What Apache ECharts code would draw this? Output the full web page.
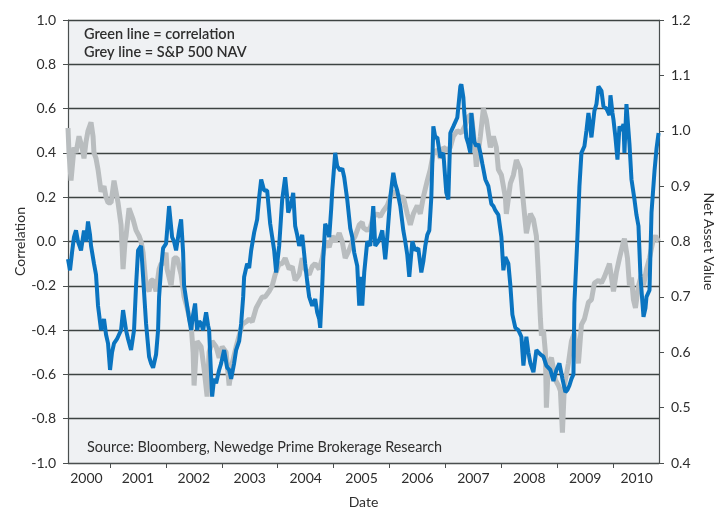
<!DOCTYPE html>
<html><head><meta charset="utf-8">
<script src="https://cdn.jsdelivr.net/npm/echarts@6/dist/echarts.min.js"></script>
<style>html,body{margin:0;padding:0;background:#fff}#c{width:727px;height:510px}</style>
</head><body><div id="c"></div>
<script>
// Correlation series (date in decimal years, value)
const corrDates = [2000.250,2000.286,2000.322,2000.357,2000.393,2000.429,2000.483,2000.536,2000.572,2000.608,2000.644,2000.662,2000.715,2000.751,2000.787,2000.841,2000.894,2000.930,2000.966,2001.002,2001.038,2001.073,2001.127,2001.163,2001.199,2001.235,2001.288,2001.324,2001.378,2001.431,2001.467,2001.503,2001.557,2001.593,2001.646,2001.700,2001.736,2001.772,2001.825,2001.861,2001.879,2001.915,2001.951,2002.004,2002.058,2002.112,2002.147,2002.183,2002.237,2002.273,2002.309,2002.326,2002.380,2002.416,2002.452,2002.488,2002.523,2002.559,2002.595,2002.631,2002.667,2002.720,2002.756,2002.774,2002.810,2002.828,2002.863,2002.899,2002.953,2002.989,2003.042,2003.096,2003.132,2003.168,2003.221,2003.257,2003.311,2003.347,2003.383,2003.400,2003.454,2003.490,2003.526,2003.579,2003.633,2003.669,2003.705,2003.758,2003.812,2003.866,2003.902,2003.937,2003.973,2004.027,2004.081,2004.134,2004.170,2004.188,2004.242,2004.278,2004.313,2004.349,2004.385,2004.439,2004.492,2004.528,2004.564,2004.618,2004.671,2004.707,2004.743,2004.761,2004.797,2004.815,2004.850,2004.886,2004.922,2004.958,2004.976,2005.029,2005.065,2005.119,2005.155,2005.190,2005.244,2005.298,2005.334,2005.369,2005.423,2005.459,2005.477,2005.513,2005.548,2005.602,2005.656,2005.710,2005.745,2005.799,2005.835,2005.871,2005.924,2005.960,2006.014,2006.068,2006.103,2006.139,2006.193,2006.247,2006.282,2006.318,2006.354,2006.408,2006.461,2006.515,2006.569,2006.605,2006.640,2006.676,2006.712,2006.748,2006.784,2006.819,2006.855,2006.909,2006.963,2007.016,2007.052,2007.088,2007.142,2007.213,2007.267,2007.285,2007.321,2007.338,2007.374,2007.410,2007.446,2007.464,2007.517,2007.553,2007.589,2007.625,2007.661,2007.714,2007.768,2007.822,2007.858,2007.893,2007.947,2008.001,2008.037,2008.072,2008.126,2008.162,2008.198,2008.251,2008.305,2008.359,2008.395,2008.448,2008.484,2008.520,2008.574,2008.627,2008.663,2008.699,2008.753,2008.806,2008.878,2008.932,2008.985,2009.039,2009.093,2009.146,2009.182,2009.218,2009.254,2009.290,2009.307,2009.361,2009.397,2009.433,2009.486,2009.522,2009.558,2009.576,2009.612,2009.665,2009.701,2009.737,2009.791,2009.827,2009.880,2009.934,2009.952,2009.988,2010.006,2010.041,2010.077,2010.113,2010.149,2010.185,2010.202,2010.238,2010.292,2010.328,2010.381,2010.417,2010.453,2010.489,2010.525,2010.543,2010.578,2010.596,2010.650,2010.686,2010.740,2010.776,2010.812];
const corrValues = [-0.08,-0.13,-0.05,0.02,0.05,0.0,-0.04,0.05,0.0,0.09,0.03,-0.02,-0.10,-0.15,-0.29,-0.40,-0.35,-0.42,-0.46,-0.58,-0.50,-0.46,-0.44,-0.42,-0.40,-0.31,-0.40,-0.44,-0.49,-0.40,-0.20,-0.04,-0.02,-0.16,-0.37,-0.52,-0.55,-0.57,-0.51,-0.40,-0.25,-0.12,-0.03,-0.01,0.16,0.02,0.0,-0.04,0.05,0.10,-0.05,-0.20,-0.29,-0.35,-0.40,-0.33,-0.28,-0.40,-0.36,-0.37,-0.40,-0.32,-0.38,-0.40,-0.61,-0.70,-0.62,-0.64,-0.58,-0.55,-0.49,-0.57,-0.58,-0.62,-0.55,-0.49,-0.45,-0.37,-0.25,-0.16,-0.10,-0.12,-0.04,0.04,0.10,0.20,0.28,0.23,0.23,0.08,0.02,-0.04,-0.14,-0.02,0.19,0.29,0.20,0.13,0.17,0.22,0.07,0.03,-0.02,0.03,-0.10,-0.18,-0.25,-0.29,-0.26,-0.32,-0.35,-0.39,-0.20,-0.08,0.08,0.06,0.02,0.15,0.23,0.40,0.34,0.32,0.33,0.29,0.19,0.06,0.02,-0.05,-0.11,-0.29,-0.16,-0.29,-0.14,0.0,-0.02,0.16,-0.02,0.0,0.02,0.05,-0.08,0.02,0.20,0.31,0.26,0.23,0.16,0.05,0.0,-0.06,-0.16,0.0,-0.04,-0.03,-0.14,-0.09,-0.02,0.03,0.05,0.20,0.52,0.47,0.47,0.38,0.40,0.22,0.19,0.49,0.52,0.56,0.70,0.71,0.65,0.58,0.47,0.44,0.40,0.58,0.45,0.43,0.44,0.40,0.35,0.28,0.25,0.17,0.16,0.14,0.12,0.02,-0.13,-0.07,-0.10,-0.20,-0.33,-0.39,-0.40,-0.43,-0.56,-0.43,-0.50,-0.55,-0.59,-0.49,-0.50,-0.51,-0.52,-0.56,-0.58,-0.63,-0.58,-0.55,-0.62,-0.68,-0.67,-0.65,-0.62,-0.60,-0.28,0.02,0.25,0.40,0.43,0.50,0.58,0.58,0.47,0.59,0.62,0.70,0.68,0.61,0.60,0.57,0.66,0.58,0.55,0.47,0.37,0.52,0.50,0.53,0.40,0.62,0.44,0.28,0.19,0.12,0.07,-0.16,-0.28,-0.34,-0.30,-0.25,-0.22,0.13,0.32,0.42,0.49];

// S&P 500 NAV series (date in decimal years, value)
const navDates = [2000.250,2000.268,2000.304,2000.340,2000.357,2000.393,2000.447,2000.501,2000.536,2000.572,2000.608,2000.662,2000.698,2000.715,2000.751,2000.787,2000.841,2000.894,2000.930,2000.966,2001.020,2001.073,2001.109,2001.145,2001.199,2001.235,2001.270,2001.288,2001.342,2001.378,2001.414,2001.467,2001.521,2001.557,2001.593,2001.646,2001.700,2001.736,2001.772,2001.825,2001.879,2001.915,2001.951,2002.004,2002.022,2002.094,2002.147,2002.201,2002.273,2002.326,2002.380,2002.452,2002.488,2002.505,2002.541,2002.559,2002.631,2002.684,2002.738,2002.774,2002.828,2002.899,2002.953,2003.007,2003.078,2003.132,2003.186,2003.257,2003.311,2003.365,2003.436,2003.490,2003.544,2003.615,2003.669,2003.723,2003.776,2003.848,2003.902,2003.955,2004.027,2004.081,2004.134,2004.206,2004.260,2004.313,2004.385,2004.439,2004.492,2004.564,2004.618,2004.671,2004.743,2004.797,2004.850,2004.922,2004.976,2005.029,2005.101,2005.155,2005.208,2005.280,2005.334,2005.387,2005.459,2005.513,2005.531,2005.602,2005.656,2005.710,2005.781,2005.835,2005.889,2005.960,2006.014,2006.068,2006.139,2006.193,2006.247,2006.318,2006.372,2006.426,2006.497,2006.551,2006.605,2006.676,2006.730,2006.784,2006.855,2006.909,2006.963,2007.034,2007.088,2007.142,2007.213,2007.285,2007.356,2007.410,2007.464,2007.517,2007.553,2007.625,2007.679,2007.732,2007.804,2007.858,2007.911,2007.947,2008.001,2008.072,2008.090,2008.162,2008.216,2008.269,2008.341,2008.395,2008.448,2008.520,2008.574,2008.627,2008.663,2008.699,2008.717,2008.753,2008.788,2008.806,2008.842,2008.896,2008.967,2009.021,2009.057,2009.093,2009.128,2009.200,2009.254,2009.307,2009.379,2009.433,2009.486,2009.558,2009.612,2009.665,2009.737,2009.791,2009.844,2009.916,2009.934,2010.006,2010.059,2010.113,2010.185,2010.202,2010.256,2010.292,2010.328,2010.363,2010.399,2010.453,2010.507,2010.543,2010.596,2010.650,2010.721,2010.757,2010.812];
const navValues = [1.005,0.96,0.91,0.95,0.97,0.96,0.99,0.97,0.95,0.98,1.0,1.015,0.99,0.96,0.95,0.93,0.89,0.90,0.88,0.87,0.87,0.91,0.89,0.87,0.83,0.75,0.80,0.81,0.86,0.85,0.84,0.82,0.81,0.80,0.78,0.72,0.71,0.73,0.73,0.71,0.75,0.76,0.76,0.78,0.75,0.72,0.77,0.77,0.74,0.70,0.68,0.65,0.60,0.54,0.60,0.62,0.61,0.57,0.52,0.60,0.62,0.61,0.59,0.61,0.60,0.54,0.58,0.61,0.63,0.65,0.655,0.66,0.655,0.68,0.69,0.70,0.70,0.71,0.72,0.74,0.76,0.76,0.77,0.75,0.755,0.73,0.74,0.77,0.75,0.74,0.755,0.76,0.75,0.77,0.80,0.79,0.81,0.80,0.815,0.80,0.77,0.785,0.80,0.81,0.83,0.835,0.825,0.82,0.825,0.845,0.85,0.845,0.855,0.865,0.88,0.89,0.885,0.88,0.88,0.85,0.83,0.85,0.865,0.85,0.88,0.91,0.93,0.96,0.965,0.95,0.97,0.965,0.97,0.99,1.0,0.996,1.01,1.025,1.03,0.98,0.935,0.99,1.04,1.02,0.97,0.99,0.97,0.93,0.92,0.88,0.85,0.905,0.92,0.947,0.93,0.87,0.815,0.85,0.84,0.81,0.74,0.66,0.63,0.64,0.60,0.50,0.58,0.59,0.55,0.54,0.53,0.455,0.54,0.58,0.62,0.635,0.58,0.65,0.66,0.69,0.695,0.725,0.73,0.725,0.736,0.755,0.76,0.71,0.745,0.77,0.80,0.805,0.77,0.72,0.735,0.695,0.68,0.72,0.74,0.72,0.75,0.77,0.805,0.81,0.80];

const yearTicks = [2001,2002,2003,2004,2005,2006,2007,2008,2009,2010];
const yearLabelPos = [2000.58,2001.5,2002.5,2003.5,2004.5,2005.5,2006.5,2007.5,2008.5,2009.5,2010.42];

const corrData = corrDates.map((d,i)=>[d,corrValues[i]]);
const navData = navDates.map((d,i)=>[d,navValues[i]]);

const FONT = 'Lato';
const TXT = '#2e2e2e';
const chart = echarts.init(document.getElementById('c'), null, {renderer:'canvas'});
chart.setOption({
  animation:false,
  backgroundColor:'#ffffff',
  textStyle:{fontFamily:FONT},
  grid:{left:68,right:68,top:20,bottom:47,show:true,backgroundColor:'#eff1f3',borderWidth:0,outerBoundsMode:'none',containLabel:false},
  xAxis:{
    type:'value', min:2000.25, max:2010.82,
    name:'Date', nameLocation:'middle', nameGap:32,
    nameTextStyle:{color:TXT,fontSize:14,fontFamily:FONT},
    axisLine:{show:true,onZero:false,lineStyle:{color:'#4a4f4f',width:1.2}},
    axisTick:{show:true,length:5,customValues:yearTicks,lineStyle:{color:'#4a4f4f'}},
    axisLabel:{customValues:yearLabelPos,formatter:v=>String(Math.floor(v)),color:TXT,fontSize:14,margin:8,fontFamily:FONT},
    splitLine:{show:false}
  },
  yAxis:[{
    type:'value', min:-1, max:1, interval:0.2, position:'left',
    name:'Correlation', nameLocation:'middle', nameGap:41, nameRotate:90, nameMoveOverlap:false,
    nameTextStyle:{color:TXT,fontSize:14,fontFamily:FONT},
    axisLine:{show:true,lineStyle:{color:'#4a4f4f',width:1.2}},
    axisTick:{show:true,length:5,lineStyle:{color:'#4a4f4f'}},
    axisLabel:{formatter:v=>v.toFixed(1),color:TXT,fontSize:14,margin:12,fontFamily:FONT},
    splitLine:{show:true,lineStyle:{color:'#3d4342',width:1.3}}
  },{
    type:'value', min:0.4, max:1.2, interval:0.1, position:'right',
    name:'Net Asset Value', nameLocation:'middle', nameGap:42, nameRotate:-90,
    nameTextStyle:{color:TXT,fontSize:14,fontFamily:FONT},
    axisLine:{show:true,lineStyle:{color:'#4a4f4f',width:1.2}},
    axisTick:{show:true,length:5,lineStyle:{color:'#4a4f4f'}},
    axisLabel:{formatter:v=>v.toFixed(1),color:TXT,fontSize:14,margin:12,fontFamily:FONT},
    splitLine:{show:false}
  }],
  series:[{
    name:'S&P 500 NAV', type:'line', yAxisIndex:1, data:navData, showSymbol:false, z:2,
    lineStyle:{color:'#b9bdbf',width:5}
  },{
    name:'Correlation', type:'line', yAxisIndex:0, data:corrData, showSymbol:false, z:3,
    lineStyle:{color:'#0a74c0',width:4}
  }],
  graphic:[
    {type:'text',left:84,top:27,style:{text:'Green line = correlation',fill:TXT,font:'600 14.5px '+FONT}},
    {type:'text',left:84,top:45,style:{text:'Grey line = S&P 500 NAV',fill:TXT,font:'600 14.5px '+FONT}},
    {type:'text',left:87,top:440,style:{text:'Source: Bloomberg, Newedge Prime Brokerage Research',fill:TXT,font:'14.4px '+FONT}}
  ]
});
</script></body></html>
